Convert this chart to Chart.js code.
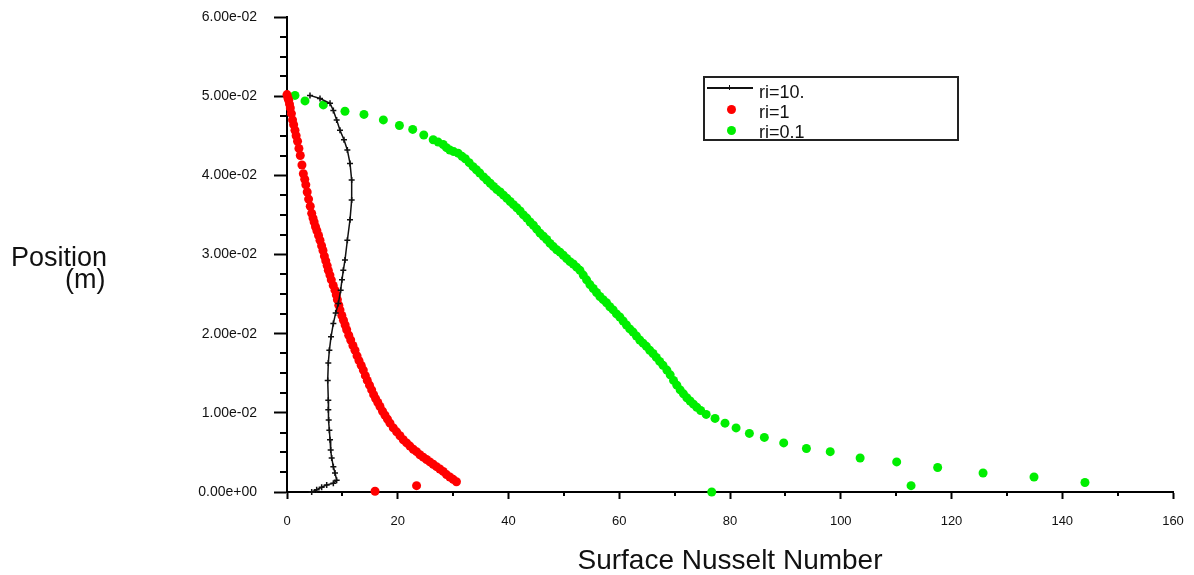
<!DOCTYPE html>
<html>
<head>
<meta charset="utf-8">
<script src="https://cdn.jsdelivr.net/npm/chart.js@4/dist/chart.umd.min.js"></script>
<style>
  body { margin: 0; background: #fff; }
  #wrap { position: relative; width: 1194px; height: 575px; font-family: "Liberation Sans", Arial, sans-serif; color: #111; }
  #c { position: absolute; left: 0; top: 0; }
  .lbl { position: absolute; white-space: nowrap; line-height: 1; }
  #legend { position: absolute; left: 703px; top: 76px; width: 252px; height: 61px; border: 2px solid #222; }
  #legend .row { position: absolute; left: 54px; font-size: 18px; line-height: 1; }
  #legend .dot { position: absolute; width: 9px; height: 9px; border-radius: 50%; }
</style>
</head>
<body>
<div id="wrap">
  <canvas id="c" width="1194" height="575"></canvas>
  <div class="lbl" style="left:11px; top:244px; font-size:27px;">Position</div>
  <div class="lbl" style="left:65px; top:266px; font-size:27px;">(m)</div>
  <div class="lbl" style="left:0; width:1460px; text-align:center; top:546px; font-size:28px;">Surface Nusselt Number</div>
  <div id="legend">
    <div style="position:absolute; left:2px; top:9px; width:46px; height:2px; background:#111;"></div>
    <div style="position:absolute; left:24px; top:7px; width:1px; height:5px; background:#111;"></div>
    <div class="row" style="top:5px;">ri=10.</div>
    <div class="dot" style="left:22px; top:27px; background:#ff0000;"></div>
    <div class="row" style="top:25px;">ri=1</div>
    <div class="dot" style="left:22px; top:48px; background:#00ee00;"></div>
    <div class="row" style="top:45px;">ri=0.1</div>
  </div>
</div>
<script>
// valeurs (x = Nusselt, y = position en m)
const ri10X = [4.15, 5.96, 7.77, 8.37, 8.97, 9.57, 10.29, 10.9, 11.38, 11.68, 11.68, 11.38, 10.9, 10.47, 10.17, 9.93, 9.69, 9.27, 8.79, 8.37, 7.95, 7.65, 7.46, 7.35, 7.46, 7.46, 7.53, 7.65, 7.77, 7.89, 8.07, 8.37, 8.67, 8.97, 8.37, 7.17, 6.26, 5.36, 4.46];
const ri10Y = [0.0501, 0.0497, 0.0491, 0.0482, 0.0470, 0.0457, 0.0445, 0.0432, 0.0415, 0.0394, 0.0369, 0.0344, 0.0318, 0.0293, 0.0280, 0.0268, 0.0255, 0.0238, 0.0226, 0.0213, 0.0196, 0.0179, 0.0163, 0.0141, 0.0116, 0.0104, 0.0091, 0.0078, 0.0066, 0.0053, 0.0043, 0.0032, 0.0024, 0.0015, 0.0011, 0.0009, 0.0006, 0.0003, 0.0000];

const ri1X = [0.0, 0.15, 0.3, 0.45, 0.6, 0.8, 1.0, 1.2, 1.44, 1.65, 1.9, 2.15, 2.4, 2.7, 2.95, 3.2, 3.4, 3.65, 3.9, 4.2, 4.46, 4.7, 4.9, 5.15, 5.4, 5.7, 5.96, 6.25, 6.5, 6.75, 7.0, 7.25, 7.46, 7.75, 8.0, 8.35, 8.67, 8.9, 9.1, 9.35, 9.57, 9.9, 10.2, 10.5, 10.78, 11.15, 11.5, 11.9, 12.28, 12.65, 13.0, 13.4, 13.78, 14.15, 14.5, 14.9, 15.29, 15.65, 16.0, 16.4, 16.79, 17.25, 17.7, 18.15, 18.6, 19.2, 19.8, 20.4, 21.0, 21.6, 22.2, 22.8, 23.4, 24.0, 24.6, 25.2, 25.8, 26.4, 27.0, 27.6, 28.2, 28.8, 29.4, 30.0, 30.6, 23.4, 15.9];
const ri1Y = [0.0502, 0.0498, 0.0495, 0.0490, 0.0485, 0.0478, 0.0470, 0.0464, 0.0457, 0.0450, 0.0443, 0.0434, 0.0425, 0.0413, 0.0402, 0.0395, 0.0388, 0.0379, 0.0370, 0.0361, 0.0352, 0.0346, 0.0341, 0.0335, 0.0330, 0.0324, 0.0318, 0.0311, 0.0305, 0.0298, 0.0292, 0.0286, 0.0280, 0.0274, 0.0268, 0.0261, 0.0255, 0.0249, 0.0243, 0.0236, 0.0230, 0.0223, 0.0217, 0.0211, 0.0205, 0.0198, 0.0192, 0.0185, 0.0179, 0.0172, 0.0166, 0.0160, 0.0154, 0.0147, 0.0141, 0.0135, 0.0129, 0.0123, 0.0118, 0.0113, 0.0108, 0.0102, 0.0097, 0.0092, 0.0087, 0.0081, 0.0076, 0.0071, 0.0066, 0.0062, 0.0058, 0.0054, 0.0051, 0.0047, 0.0044, 0.0041, 0.0038, 0.0035, 0.0032, 0.0029, 0.0026, 0.0022, 0.0019, 0.0016, 0.0013, 0.0008, 0.0001];

const ri01X = [1.44, 3.25, 6.56, 10.47, 13.9, 17.4, 20.3, 22.7, 24.7, 26.4, 27.3, 28.2, 28.8, 29.4, 30.1, 30.9, 31.6, 32.2, 32.9, 33.6, 34.2, 34.8, 35.5, 36.1, 36.7, 37.3, 37.9, 38.5, 39.1, 39.7, 40.3, 40.9, 41.5, 42.1, 42.7, 43.3, 43.9, 44.5, 45.1, 45.7, 46.3, 46.9, 47.5, 48.1, 48.7, 49.3, 49.9, 50.5, 51.1, 51.7, 52.3, 52.9, 53.5, 54.1, 54.7, 55.3, 55.9, 56.5, 57.1, 57.7, 58.3, 58.9, 59.5, 60.1, 60.7, 61.3, 61.9, 62.5, 63.1, 63.7, 64.3, 64.9, 65.5, 66.1, 66.7, 67.3, 67.9, 68.6, 69.2, 69.8, 70.4, 71.0, 71.6, 72.2, 72.8, 73.4, 74.0, 74.7, 75.7, 77.3, 79.1, 81.1, 83.5, 86.2, 89.7, 93.8, 98.1, 103.5, 110.1, 117.5, 125.7, 134.9, 144.1, 112.7, 76.7];
const ri01Y = [0.0501, 0.0494, 0.0489, 0.0481, 0.0477, 0.0470, 0.0463, 0.0458, 0.0451, 0.0445, 0.0442, 0.0439, 0.0435, 0.0432, 0.0430, 0.0428, 0.0424, 0.0421, 0.0416, 0.0411, 0.0407, 0.0403, 0.0398, 0.0394, 0.0390, 0.0386, 0.0382, 0.0379, 0.0375, 0.0371, 0.0367, 0.0363, 0.0359, 0.0355, 0.0350, 0.0346, 0.0341, 0.0337, 0.0332, 0.0327, 0.0323, 0.0319, 0.0314, 0.0310, 0.0306, 0.0303, 0.0299, 0.0295, 0.0291, 0.0288, 0.0284, 0.0280, 0.0274, 0.0268, 0.0262, 0.0257, 0.0252, 0.0247, 0.0243, 0.0239, 0.0234, 0.0230, 0.0225, 0.0221, 0.0216, 0.0211, 0.0206, 0.0202, 0.0197, 0.0192, 0.0188, 0.0184, 0.0179, 0.0175, 0.0170, 0.0165, 0.0160, 0.0154, 0.0148, 0.0141, 0.0135, 0.0129, 0.0124, 0.0119, 0.0115, 0.0111, 0.0107, 0.0103, 0.0098, 0.0093, 0.0087, 0.0081, 0.0074, 0.0069, 0.0062, 0.0055, 0.0051, 0.0043, 0.0038, 0.0031, 0.0024, 0.0019, 0.0012, 0.0008, 0.0000];

const xTicks = [0, 20, 40, 60, 80, 100, 120, 140, 160];
const yTicks = [0, 0.01, 0.02, 0.03, 0.04, 0.05, 0.06];

function pts(xs, ys) {
    return xs.map((x, i) => ({x: x, y: ys[i]}));
}

// format fluent : 6.00e-02
function fmtExp(v) {
    let s = Number(v).toExponential(2);
    let [m, e] = s.split('e');
    let sign = e[0];
    let d = e.slice(1).padStart(2, '0');
    return m + 'e' + sign + d;
}

// petites graduations (pas de minor ticks dans chart.js)
const minorTicks = {
    id: 'minorTicks',
    afterDraw(chart) {
        const ctx = chart.ctx;
        const xs = chart.scales.x, ys = chart.scales.y;
        ctx.save();
        ctx.strokeStyle = '#000';
        ctx.lineWidth = 2;
        ctx.beginPath();
        for (let i = 0; i <= 24; i++) {
            if (i % 4 === 0) continue;
            let py = Math.round(ys.getPixelForValue(i * 0.0025));
            ctx.moveTo(ys.right - 7, py);
            ctx.lineTo(ys.right, py);
        }
        for (let i = 1; i < 16; i += 2) {
            let px = Math.round(xs.getPixelForValue(i * 10));
            ctx.moveTo(px, xs.top);
            ctx.lineTo(px, xs.top + 4);
        }
        ctx.stroke();
        ctx.restore();
    }
};

const tickFont = {family: "'Liberation Sans', Arial, sans-serif", size: 13};

new Chart(document.getElementById('c'), {
    type: 'scatter',
    data: {
        datasets: [{
            label: 'ri=10.',
            data: pts(ri10X, ri10Y),
            showLine: true,
            borderColor: '#111',
            borderWidth: 1.5,
            pointStyle: 'cross',
            pointRadius: 3,
            pointBorderWidth: 1.5,
            pointBorderColor: '#111',
            clip: false
        }, {
            label: 'ri=1',
            data: pts(ri1X, ri1Y),
            showLine: false,
            pointRadius: 4.5,
            pointBorderWidth: 0,
            pointBackgroundColor: '#ff0000',
            clip: false
        }, {
            label: 'ri=0.1',
            data: pts(ri01X, ri01Y),
            showLine: false,
            pointRadius: 4.5,
            pointBorderWidth: 0,
            pointBackgroundColor: '#00ee00',
            clip: false
        }]
    },
    options: {
        responsive: false,
        animation: false,
        layout: {padding: {top: 17, right: 21, left: 0, bottom: 0}},
        plugins: {legend: {display: false}, tooltip: {enabled: false}},
        scales: {
            x: {
                type: 'linear',
                min: 0, max: 160,
                afterBuildTicks: (s) => { s.ticks = xTicks.map(v => ({value: v})); },
                // le padding des labels ne doit pas pousser la zone du graphe
                afterFit: (s) => { s.height = 83; s.paddingLeft = 8; s.paddingRight = 10; },
                border: {display: true, color: '#000', width: 2},
                grid: {drawOnChartArea: false, drawTicks: true, tickLength: 7, tickColor: '#000', tickWidth: 2},
                ticks: {color: '#111', font: tickFont, padding: 15, maxRotation: 0}
            },
            y: {
                type: 'linear',
                min: 0, max: 0.06,
                afterBuildTicks: (s) => { s.ticks = yTicks.map(v => ({value: v})); },
                afterFit: (s) => { s.width = 287; s.paddingTop = 8; s.paddingBottom = 8; },
                border: {display: true, color: '#000', width: 2},
                grid: {drawOnChartArea: false, drawTicks: true, tickLength: 13, tickColor: '#000', tickWidth: 2},
                ticks: {color: '#111', font: {family: tickFont.family, size: 14}, padding: 17, callback: (v) => fmtExp(v)}
            }
        }
    },
    plugins: [minorTicks]
});
</script>
</body>
</html>
